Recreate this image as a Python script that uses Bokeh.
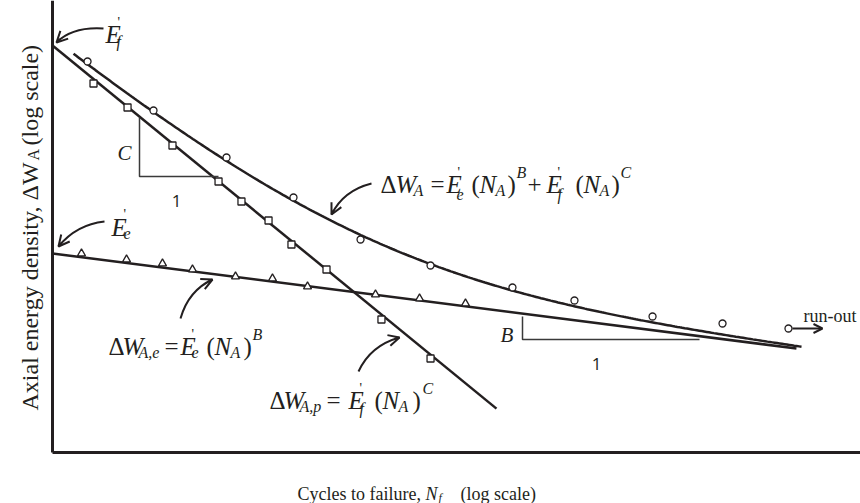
import numpy as np
from bokeh.plotting import figure
from bokeh.models import Range1d, Label, Arrow, OpenHead
from bokeh.embed import file_html
from bokeh.resources import INLINE

# ---- schematic energy-life data (x = log10 N, y = log10 dW) ----
# total axial energy density points (last one is the run-out specimen)
total_logN = [0.347, 1.000, 1.723, 2.386, 3.050, 3.743, 4.554, 5.168, 5.941, 6.634, 7.287]
total_logW = [1.955, 1.710, 1.475, 1.275, 1.065, 0.935, 0.825, 0.760, 0.680, 0.645, 0.620]

# plastic part
plastic_logN = [0.406, 0.743, 1.188, 1.644, 1.871, 2.139, 2.366, 2.713, 3.257, 3.743]
plastic_logW = [1.845, 1.725, 1.535, 1.355, 1.255, 1.160, 1.040, 0.915, 0.665, 0.470]

# elastic part
elastic_logN = [0.287, 0.733, 1.089, 1.386, 1.812, 2.178, 2.525, 3.198, 3.634, 4.089]
elastic_logW = [0.995, 0.965, 0.945, 0.915, 0.880, 0.870, 0.830, 0.790, 0.770, 0.745]

# energy-life model: dW = Ee' N^B + Ef' N^C
log_Ee, B = 0.995, -0.0645
log_Ef, C = 2.035, -0.413
elastic_span = (0.0, 7.366)
plastic_span = (0.0, 4.396)
total_span = (0.208, 7.416)

INK = "#231f20"
SERIF = "Liberation Serif"
SANS = "Open Sans"

W, H = 860, 503
OX, OY = 52, 452          # canvas position of the origin
SX, SY = 101.0, 200.0     # pixels per decade on each axis


def cx(px):
    return (px - OX) / SX


def cy(py):
    return (OY - py) / SY


p = figure(width=W, height=H, x_range=Range1d(cx(0), cx(W)), y_range=Range1d(cy(H), cy(0)),
           x_axis_location=None, y_axis_location=None, min_border=0,
           output_backend="svg", toolbar_location=None)
p.grid.visible = False
p.outline_line_color = None
p.background_fill_color = "white"
p.border_fill_color = "white"

# axis lines
p.line([0, 0], [0, cy(0)], line_color=INK, line_width=3)
p.line([0, cx(W)], [0, 0], line_color=INK, line_width=3)

# model lines
xe = np.array(elastic_span)
p.line(xe, log_Ee + B * xe, line_color=INK, line_width=2.5)
xp = np.array(plastic_span)
p.line(xp, log_Ef + C * xp, line_color=INK, line_width=2.5)
xt = np.linspace(*total_span, 300)
yt = np.log10(10 ** (log_Ee + B * xt) + 10 ** (log_Ef + C * xt))
p.line(xt, yt, line_color=INK, line_width=2.5)

# data markers
p.scatter(total_logN, total_logW, marker="circle", size=7, fill_color="white",
          line_color=INK, line_width=1.3)
p.scatter(plastic_logN, plastic_logW, marker="square", size=7, fill_color="white",
          line_color=INK, line_width=1.3)
p.scatter(elastic_logN, elastic_logW, marker="triangle", size=8, fill_color="white",
          line_color=INK, line_width=1.3)

# run-out arrow
ro_x, ro_y = total_logN[-1], total_logW[-1]
p.add_layout(Arrow(end=OpenHead(size=9, line_width=2, line_color=INK),
                   x_start=ro_x + 4 / SX, y_start=ro_y, x_end=ro_x + 34 / SX, y_end=ro_y,
                   line_width=2, line_color=INK))

# slope triangles
for pts in ([(139, 117), (139, 176), (218, 176)], [(522, 316), (522, 339), (699, 339)]):
    p.line([cx(a) for a, _ in pts], [cy(b) for _, b in pts], line_color="#3a3a3a", line_width=1.5)


def put(text, px, py, size=25, style="normal", font=SERIF, angle=0, align="left"):
    p.add_layout(Label(x=cx(px), y=cy(py), text=text, text_font=font,
                       text_font_size=f"{size}px", text_font_style=style,
                       text_baseline="alphabetic", text_align=align,
                       text_color=INK, angle=angle))


def curved_arrow(start, ctrl, tip):
    p.quadratic(x0=[cx(start[0])], y0=[cy(start[1])], x1=[cx(tip[0])], y1=[cy(tip[1])],
                cx=[cx(ctrl[0])], cy=[cy(ctrl[1])], line_color=INK, line_width=2)
    dx, dy = tip[0] - ctrl[0], tip[1] - ctrl[1]
    n = (dx * dx + dy * dy) ** 0.5
    sx, sy = tip[0] - 5 * dx / n, tip[1] - 5 * dy / n
    p.add_layout(Arrow(end=OpenHead(size=11, line_width=2, line_color=INK),
                       x_start=cx(sx), y_start=cy(sy), x_end=cx(tip[0]), y_end=cy(tip[1]),
                       line_width=2, line_color=INK))


curved_arrow((103, 28), (72, 26), (56, 42))
curved_arrow((104, 221), (76, 224), (58, 246))
curved_arrow((371, 183), (343, 190), (331, 214))
curved_arrow((180, 318), (188, 290), (212, 279))
curved_arrow((358, 371), (370, 345), (399, 337))

SUB, SUP, PRIME = 16, 16, 14

# E'_f and E'_e intercept labels
put("E", 105, 34, style="italic"); put("'", 117, 22, PRIME); put("f", 116, 41, SUB, "italic")
put("E", 111, 227, style="italic"); put("'", 123, 214, PRIME); put("e", 123, 233, SUB, "italic")

# dW_A = E'_e (N_A)^B + E'_f (N_A)^C
put("Δ", 380, 184); put("W", 395, 184, style="italic"); put("A", 413, 190, SUB, "italic")
put("=", 430, 184)
put("E", 446, 184, style="italic"); put("'", 457, 172, PRIME); put("e", 456, 194, SUB, "italic")
put("(", 471, 184); put("N", 479, 184, style="italic"); put("A", 495, 190, SUB, "italic")
put(")", 507, 184); put("B", 516, 172, SUP, "italic")
put("+", 527, 184)
put("E", 546, 184, style="italic"); put("'", 557, 172, PRIME); put("f", 557, 194, SUB, "italic")
put("(", 575, 184); put("N", 583, 184, style="italic"); put("A", 599, 190, SUB, "italic")
put(")", 611, 184); put("C", 620, 172, SUP, "italic")

# dW_A,e = E'_e (N_A)^B
put("Δ", 108, 346); put("W", 122, 346, style="italic"); put("A,e", 138, 352, SUB, "italic")
put("=", 164, 346)
put("E", 180, 346, style="italic"); put("'", 191, 334, PRIME); put("e", 191, 352, SUB, "italic")
put("(", 206, 346); put("N", 214, 346, style="italic"); put("A", 230, 352, SUB, "italic")
put(")", 243, 346); put("B", 252, 334, SUP, "italic")

# dW_A,p = E'_f (N_A)^C
put("Δ", 269, 400); put("W", 283, 400, style="italic"); put("A,p", 299, 406, SUB, "italic")
put("=", 326, 400)
put("E", 348, 400, style="italic"); put("'", 359, 388, PRIME); put("f", 359, 408, SUB, "italic")
put("(", 374, 400); put("N", 382, 400, style="italic"); put("A", 398, 406, SUB, "italic")
put(")", 412, 400); put("C", 422, 388, SUP, "italic")

# slope annotations
put("C", 117, 152, 21, "italic")
put("1", 176, 200, 17, font=SANS, align="center")
put("B", 500, 334, 21, "italic")
put("1", 596, 363, 17, font=SANS, align="center")
put("run-out", 803, 315, 18)

# axis titles
put("Cycles to failure, ", 297, 493, 18)
put("N", 425, 493, 18, "italic"); put("f", 438, 497, 12, "italic")
put("(log scale)", 460, 493, 18)

up = np.pi / 2
put("Axial energy density, ΔW", 29, 410, 24, angle=up)
put("A", 33, 160, 16, angle=up)
put("(log scale)", 29, 145, 24, angle=up)

open("out.html", "w").write(file_html(p, INLINE))
